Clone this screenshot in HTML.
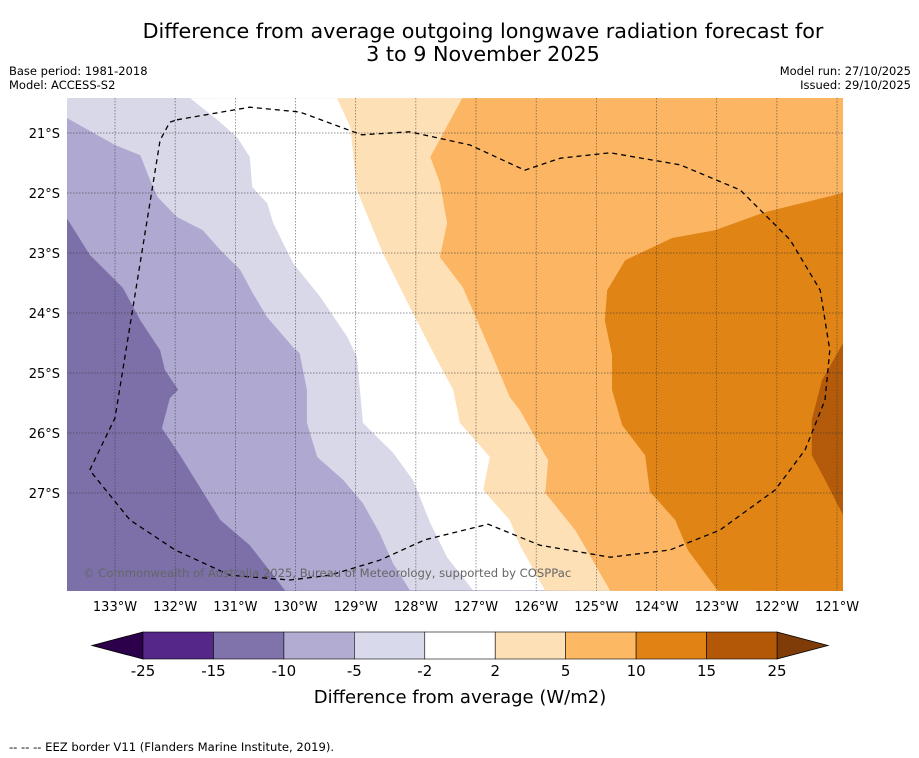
<!DOCTYPE html>
<html><head><meta charset="utf-8">
<style>
body{margin:0;background:#fff;font-family:"DejaVu Sans","Liberation Sans",sans-serif;}
svg{display:block}
</style></head>
<body>
<svg id="chart" width="919" height="758" viewBox="0 0 919 758" xmlns="http://www.w3.org/2000/svg">
<text x="483" y="38" text-anchor="middle" font-size="20.7" fill="#000">Difference from average outgoing longwave radiation forecast for</text>
<text x="483" y="61" text-anchor="middle" font-size="20.7" fill="#000">3 to 9 November 2025</text>
<text x="9" y="75" font-size="11.5">Base period: 1981-2018</text>
<text x="9" y="89" font-size="11.5">Model: ACCESS-S2</text>
<text x="911" y="75" font-size="11.5" text-anchor="end">Model run: 27/10/2025</text>
<text x="911" y="89" font-size="11.5" text-anchor="end">Issued: 29/10/2025</text>
<defs><clipPath id="mapclip"><rect x="67" y="98" width="776" height="493"/></clipPath></defs>
<g id="map" clip-path="url(#mapclip)"></g>
<g id="grid"></g>
<g id="eez" clip-path="url(#mapclip)"></g>
<text x="83" y="577" font-size="11.6" fill="#666">© Commonwealth of Australia 2025, Bureau of Meteorology, supported by COSPPac</text>
<g id="xticks"></g>
<g id="yticks"></g>
<g id="cbar"></g>
<text x="460" y="703" font-size="18" text-anchor="middle">Difference from average (W/m2)</text>
<text x="9" y="751" font-size="11.6">--  --  -- EEZ border V11 (Flanders Marine Institute, 2019).</text>
</svg>
<script>
const lonTicks=[-133,-132,-131,-130,-129,-128,-127,-126,-125,-124,-123,-122,-121];
const latTicks=[-21,-22,-23,-24,-25,-26,-27];
const levelLabels=["-25","-15","-10","-5","-2","2","5","10","15","25"];
const levelColors=["#542788","#8073ac","#b2abd2","#d8daeb","#ffffff","#fee0b6","#fdb863","#e08214","#b35806"];
const extendLow="#2d004b", extendHigh="#7f3b08";
const fillColors=["#7d70a9","#afa8d0","#d8d8e9","#ffffff","#fee0b6","#fbb563","#e08416","#b35a0b"];
const contour1=[[-133.8,-22.42],[-133.42,-23.03],[-132.87,-23.58],[-132.58,-24.12],[-132.25,-24.62],[-132.17,-24.95],[-131.95,-25.28],[-132.09,-25.42],[-132.22,-25.92],[-131.92,-26.37],[-131.25,-27.45],[-130.76,-27.87],[-130.17,-28.63]];
const contour2=[[-133.8,-20.75],[-133.0,-21.2],[-132.58,-21.37],[-132.42,-21.78],[-132.29,-22.07],[-131.97,-22.4],[-131.54,-22.62],[-131.25,-22.95],[-130.92,-23.28],[-130.71,-23.67],[-130.47,-24.07],[-130.04,-24.57],[-129.93,-24.67],[-129.81,-25.28],[-129.81,-25.83],[-129.64,-26.4],[-129.21,-26.78],[-128.88,-27.17],[-128.6,-27.67],[-128.38,-28.17],[-128.1,-28.62]];
const contour3=[[-131.75,-20.42],[-131.3,-20.78],[-130.97,-21.07],[-130.76,-21.4],[-130.72,-21.9],[-130.47,-22.17],[-130.37,-22.5],[-130.04,-23.17],[-129.59,-23.73],[-129.14,-24.4],[-128.98,-24.73],[-128.93,-25.28],[-128.88,-25.83],[-128.38,-26.33],[-128.05,-26.78],[-127.76,-27.5],[-127.48,-28.07],[-127.05,-28.62]];
const contour4=[[-129.31,-20.42],[-129.09,-20.9],[-128.98,-21.95],[-128.55,-23.0],[-128.1,-23.9],[-127.65,-24.78],[-127.38,-25.28],[-127.27,-25.83],[-126.77,-26.4],[-126.88,-26.95],[-126.44,-27.45],[-126.27,-27.87],[-125.85,-28.63]];
const contour5=[[-127.23,-20.42],[-127.76,-21.4],[-127.6,-21.83],[-127.48,-22.5],[-127.6,-23.07],[-127.22,-23.57],[-126.72,-24.73],[-126.44,-25.4],[-126.27,-25.62],[-125.85,-26.37],[-125.8,-26.45],[-125.85,-27.0],[-125.35,-27.62],[-124.77,-28.63]];
const contour6=[[-120.9,-22.0],[-122.2,-22.32],[-123.03,-22.62],[-123.74,-22.75],[-124.52,-23.12],[-124.82,-23.62],[-124.86,-24.12],[-124.74,-24.7],[-124.74,-25.28],[-124.57,-25.87],[-124.19,-26.37],[-124.11,-26.98],[-123.69,-27.45],[-123.48,-27.95],[-122.98,-28.63]];
const contour7=[[-120.9,-24.5],[-121.25,-25.12],[-121.42,-25.78],[-121.42,-26.37],[-121.2,-26.78],[-120.9,-27.37]];
const eezLine=[[-131.97,-20.78],[-130.76,-20.57],[-129.93,-20.65],[-128.9,-21.03],[-128.1,-20.98],[-127.1,-21.2],[-126.19,-21.62],[-125.6,-21.42],[-124.77,-21.33],[-123.61,-21.53],[-122.61,-21.95],[-121.78,-22.78],[-121.28,-23.62],[-121.12,-24.62],[-121.2,-25.45],[-121.53,-26.28],[-122.03,-26.95],[-122.95,-27.62],[-123.78,-27.95],[-124.77,-28.07],[-125.94,-27.87],[-126.8,-27.52],[-127.85,-27.78],[-128.6,-28.12],[-129.43,-28.37],[-130.09,-28.45],[-131.09,-28.37],[-132.0,-27.95],[-132.75,-27.45],[-133.42,-26.62],[-133.0,-25.75],[-132.25,-21.12],[-132.09,-20.82],[-131.97,-20.78]];

const NS="http://www.w3.org/2000/svg";
const X0=67,X1=843,Y0=98,Y1=591;
function xs(lon){return 115+(lon+133)*60.17;}
function ys(lat){return 133+(-21-lat)*60;}
function mk(t,a,p){const e=document.createElementNS(NS,t);for(const k in a)e.setAttribute(k,a[k]);p.appendChild(e);return e;}
const corners={TL:[X0,Y0],TR:[X1,Y0],BR:[X1,Y1],BL:[X0,Y1]};
const map=document.getElementById('map');
const bg=mk('rect',{x:X0,y:Y0,width:X1-X0,height:Y1-Y0,fill:fillColors[0]},map);


const layers=[[contour1,['BR','TR','TL']],[contour2,['BR','TR','TL']],[contour3,['BR','TR']],[contour4,['BR','TR']],[contour5,['BR','TR']],[contour6,['BR']],[contour7,[]]];
layers.forEach((l,i)=>{
  const pts=l[0].map(p=>xs(p[0]).toFixed(1)+','+ys(p[1]).toFixed(1));
  l[1].forEach(c=>pts.push(corners[c].join(',')));
  const pg=mk('polygon',{points:pts.join(' '),fill:fillColors[i+1]},map);
  
  
});
const grid=document.getElementById('grid');
lonTicks.forEach(l=>{
  const ln=mk('line',{x1:xs(l),x2:xs(l),y1:Y0,y2:Y1,stroke:'#333','stroke-width':0.7,'stroke-dasharray':'1.5,1.5',opacity:0.7},grid);
  
  
  const t=mk('text',{x:xs(l),y:611,'font-size':13,'text-anchor':'middle'},document.getElementById('xticks'));
  t.textContent=Math.abs(l)+'°W';
  
  
});
latTicks.forEach(l=>{
  const ln=mk('line',{x1:X0,x2:X1,y1:ys(l),y2:ys(l),stroke:'#333','stroke-width':0.7,'stroke-dasharray':'1.5,1.5',opacity:0.7},grid);
  
  
  const t=mk('text',{x:60,y:ys(l)+5,'font-size':13,'text-anchor':'end'},document.getElementById('yticks'));
  t.textContent=Math.abs(l)+'°S';
  
  
});
const eez=mk('polyline',{points:eezLine.map(p=>xs(p[0]).toFixed(1)+','+ys(p[1]).toFixed(1)).join(' '),fill:'none',stroke:'#000','stroke-width':1.3,'stroke-dasharray':'5,4'},document.getElementById('eez'));


const cb=document.getElementById('cbar');
const CB0=143,CB1=777,CT=632,CBt=659,n=levelColors.length,w=(CB1-CB0)/n;
const lt=mk('polygon',{points:`92,${(CT+CBt)/2} ${CB0},${CT} ${CB0},${CBt}`,fill:extendLow,stroke:'#000','stroke-width':0.8},cb);


const rt=mk('polygon',{points:`828,${(CT+CBt)/2} ${CB1},${CT} ${CB1},${CBt}`,fill:extendHigh,stroke:'#000','stroke-width':0.8},cb);


levelColors.forEach((c,i)=>{
  const r=mk('rect',{x:CB0+i*w,y:CT,width:w,height:CBt-CT,fill:c,stroke:'#000','stroke-width':0.6},cb);
  
  
});
levelLabels.forEach((s,i)=>{
  const t=mk('text',{x:CB0+i*w,y:676,'font-size':15,'text-anchor':'middle'},cb);
  t.textContent=s;
  
  
});
</script>
</body></html>
